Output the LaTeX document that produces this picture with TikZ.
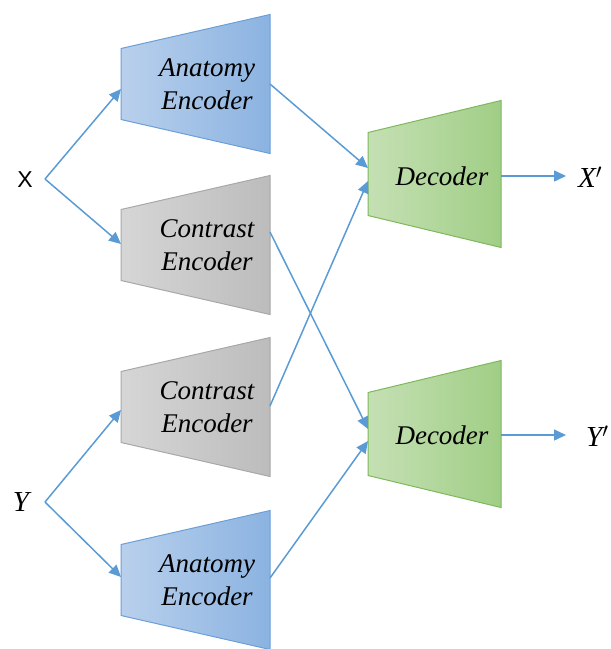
\documentclass[tikz,border=0pt]{standalone}
\usepackage{fontspec}
\setmainfont{Liberation Serif}
\newfontfamily\labelsans{Liberation Sans}
\usetikzlibrary{arrows.meta}

\definecolor{arrowblue}{HTML}{5B9BD5}
\definecolor{anaL}{HTML}{B9D0EC}
\definecolor{anaR}{HTML}{8BB3E1}
\definecolor{anaB}{HTML}{6A9FD8}
\definecolor{conL}{HTML}{D6D6D6}
\definecolor{conR}{HTML}{BCBCBC}
\definecolor{conB}{HTML}{A8A8A8}
\definecolor{decL}{HTML}{C5E0B4}
\definecolor{decR}{HTML}{A0CE86}
\definecolor{decB}{HTML}{7DB95A}

\tikzset{
  link/.style={draw=arrowblue, line width=1.5pt,
    -{Triangle[length=12pt,width=11pt]}},
  anatomybox/.style={draw=anaB, line width=1pt, left color=anaL, right color=anaR},
  contrastbox/.style={draw=conB, line width=1pt, left color=conL, right color=conR},
  decoderbox/.style={draw=decB, line width=1pt, left color=decL, right color=decR},
  blocktext/.style={font=\itshape\fontsize{27}{33}\selectfont, align=center, inner sep=0pt},
  symbol/.style={inner sep=0pt},
  symfont/.style={font=\itshape\fontsize{29}{32}\selectfont}
}

% encoder trapezoid: narrow side on the left, wide side on the right
\newcommand{\encshape}[2]{%
  \path[#1] (121,#2-35.5) -- (270,#2-69.5) -- (270,#2+69.5) -- (121,#2+35.5) -- cycle;}
% decoder trapezoid
\newcommand{\decshape}[1]{%
  \path[decoderbox] (368,#1-41.5) -- (501,#1-73.5) -- (501,#1+73.5) -- (368,#1+41.5) -- cycle;}

\begin{document}
\begin{tikzpicture}[x=1pt, y=-1pt]
\useasboundingbox (0,0) rectangle (611,649);

% blocks
\encshape{anatomybox}{84}
\encshape{contrastbox}{245}
\encshape{contrastbox}{407}
\encshape{anatomybox}{580}
\decshape{174}
\decshape{434}

\node[blocktext] (ae1) at (207,84) {Anatomy\\Encoder};
\node[blocktext] (ce1) at (207,245) {Contrast\\Encoder};
\node[blocktext] (ce2) at (207,407) {Contrast\\Encoder};
\node[blocktext] (ae2) at (207,580) {Anatomy\\Encoder};
\node[blocktext] (d1) at (442,176) {Decoder};
\node[blocktext] (d2) at (442,435) {Decoder};

% inputs and outputs
\node[symbol, font=\labelsans\fontsize{23}{26}\selectfont] (X) at (25,180) {X};
\node[symbol, symfont] (Y) at (21,502) {Y};
\node[symbol, symfont, anchor=west] (Xp) at (578,177) {X$'$};
\node[symbol, symfont, anchor=west] (Yp) at (586,436) {Y$'$};

% attachment points on the block edges
\coordinate (xj) at (45,179);
\coordinate (yj) at (45,502);
\coordinate (ae1in) at (121,89);
\coordinate (ce1in) at (121,244);
\coordinate (ce2in) at (121,410);
\coordinate (ae2in) at (121,577);
\coordinate (ae1out) at (270,84);
\coordinate (ce1out) at (270,232);
\coordinate (ce2out) at (270,406);
\coordinate (ae2out) at (270,578);
\coordinate (d1ina) at (368,168);
\coordinate (d1inb) at (368,181);
\coordinate (d2ina) at (368,429);
\coordinate (d2inb) at (368,441);
\coordinate (d1out) at (501,176);
\coordinate (d2out) at (501,435);
\coordinate (xpin) at (566,176);
\coordinate (ypin) at (566,435);

% connectors
\draw[link] (xj) -- (ae1in);
\draw[link] (xj) -- (ce1in);
\draw[link] (yj) -- (ce2in);
\draw[link] (yj) -- (ae2in);
\draw[link] (ae1out) -- (d1ina);
\draw[link] (ce2out) -- (d1inb);
\draw[link] (ce1out) -- (d2ina);
\draw[link] (ae2out) -- (d2inb);
\draw[link] (d1out) -- (xpin);
\draw[link] (d2out) -- (ypin);
\end{tikzpicture}
\end{document}
